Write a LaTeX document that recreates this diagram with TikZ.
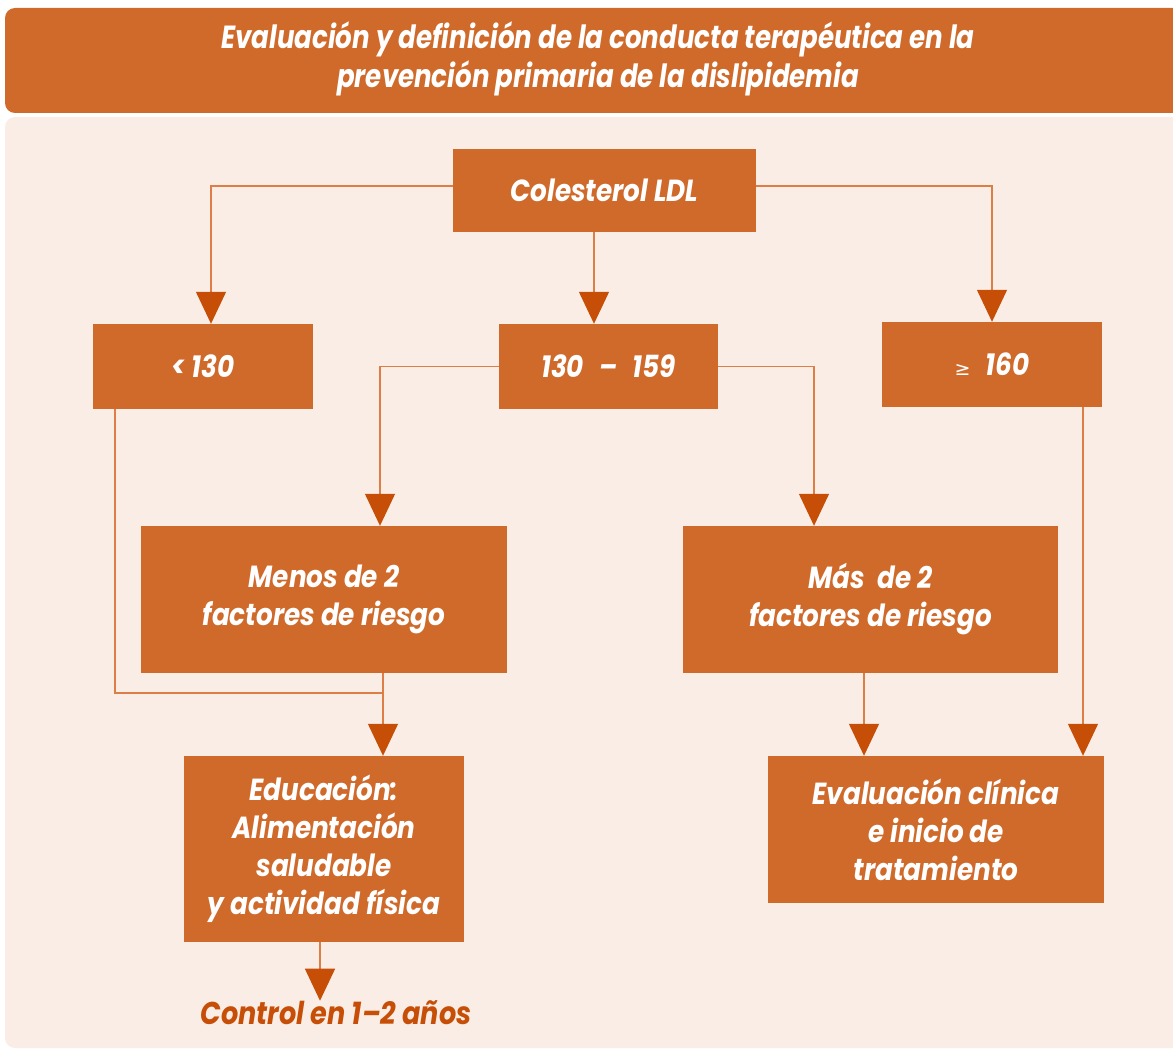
\documentclass[tikz,border=0pt]{standalone}
\usepackage{fontspec}
\setmainfont{Poppins}
\newfontfamily\titlefont[FakeStretch=0.815,Ligatures=TeX]{Poppins}
\newfontfamily\boxfont[FakeStretch=0.86,Ligatures=TeX]{Poppins}
\usetikzlibrary{arrows.meta,calc}
\definecolor{boxc}{HTML}{CF6A2A}
\definecolor{bgc}{HTML}{FAEDE5}
\definecolor{linec}{HTML}{DC7E45}
\definecolor{tipc}{HTML}{C64E07}
\begin{document}
\begin{tikzpicture}[x=1pt,y=-1pt,
  box/.style={fill=boxc, text=white, inner sep=0pt, align=center,
    font=\boxfont\fontsize{30.5}{38}\selectfont\bfseries\itshape},
  conn/.style={draw=linec, line width=1.3pt},
  arr/.style={conn, -{Triangle[width=30pt,length=32pt,color=tipc,fill=tipc]}},
  ctrl/.style={text=tipc, inner sep=0pt, font=\boxfont\fontsize{31.5}{38}\selectfont\bfseries\itshape}]
\useasboundingbox (0,0) rectangle (1173,1051);
\fill[white] (0,0) rectangle (1173,1051);
\begin{scope}
\clip (0,0) rectangle (1173,1051);
\fill[boxc, rounded corners=10pt] (5,8) rectangle (1195,113);
\fill[bgc, rounded corners=10pt] (5,117) rectangle (1195,1048);
\end{scope}
\node[text=white, align=center, font=\titlefont\fontsize{32}{39}\selectfont\bfseries\itshape] (title) at (598,59)
  {Evaluación y definición de la conducta terapéutica en la\\prevención primaria de la dislipidemia};

\node[box, minimum width=303, minimum height=83] (ldl) at (604.5,190.5) {Colesterol LDL};
\node[box, minimum width=220, minimum height=85] (lt) at (203,366.5) {< 130};
\node[box, minimum width=219, minimum height=85] (mid) at (608.5,366.5) {130\enspace–\enspace159};
\node[box, minimum width=220, minimum height=85] (ge) at (992,364.5) {{\fontspec{DejaVu Sans}\upshape\mdseries\fontsize{19}{19}\selectfont ≥}\enspace 160};
\node[box, minimum width=366, minimum height=147] (menos) at (324,599.5) {Menos de 2\\factores de riesgo};
\node[box, minimum width=375, minimum height=147] (mas) at (870.5,599.5) {Más\ \ de 2\\factores de riesgo};
\node[box, minimum width=280, minimum height=186] (edu) at (324,849) {Educación:\\Alimentación\\saludable\\y actividad física};
\node[box, minimum width=336, minimum height=147] (evc) at (936,829.5) {Evaluación clínica\\e inicio de\\tratamiento};
\node[ctrl] (ctl) at (336,1013) {Control en 1–2 años};
\coordinate (j) at (383,693);

\draw[arr] ([yshift=4.5pt]ldl.west) -| ([xshift=8pt]lt.north);
\draw[arr] ([xshift=-10.5pt]ldl.south) -- ([xshift=-10.5pt]ldl.south |- mid.north);
\draw[arr] ([yshift=4.5pt]ldl.east) -| (ge.north);
\draw[arr] (mid.west) -| ([xshift=56pt]menos.north);
\draw[arr] (mid.east) -| ([xshift=-56.5pt]mas.north);
\draw[conn] ([xshift=-88pt]lt.south) |- (j);
\draw[arr] (j |- menos.south) -- (j |- edu.north);
\draw[arr] ([xshift=-6.5pt]mas.south) -- ([xshift=-6.5pt]mas.south |- evc.north);
\draw[arr] ([xshift=91pt]ge.south) -- ([xshift=91pt]ge.south |- evc.north);
\draw[arr] ([xshift=-4pt]edu.south) -- ([xshift=-4pt]edu.south |- ctl.north);
\end{tikzpicture}
\end{document}
